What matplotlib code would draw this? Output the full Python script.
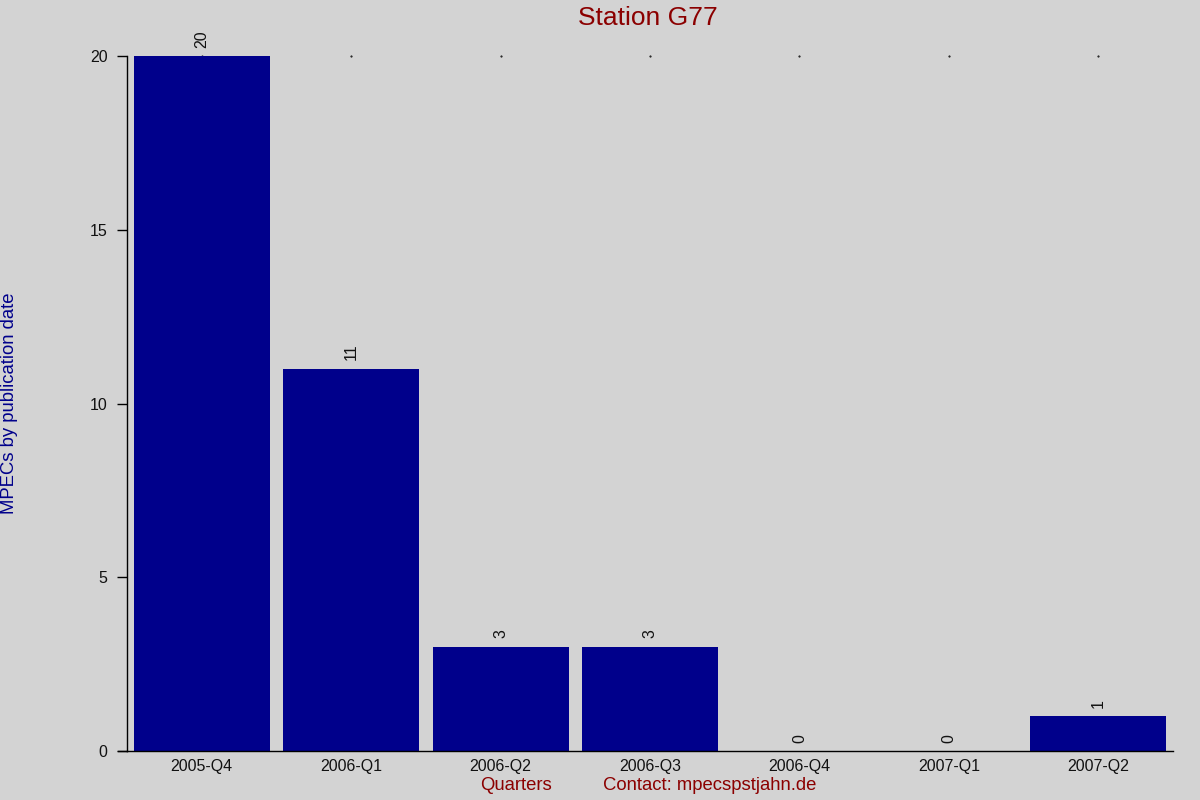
import numpy as np
import matplotlib.pyplot as plt

plt.rcParams['font.family'] = ['Liberation Sans', 'DejaVu Sans']

# data
quarters = ['2005-Q4', '2006-Q1', '2006-Q2', '2006-Q3', '2006-Q4', '2007-Q1', '2007-Q2']
mpecs = [20, 11, 3, 3, 0, 0, 1]

bg = '#d3d3d3'
fig = plt.figure(figsize=(12, 8), dpi=100, facecolor=bg)
ax = fig.add_axes([127 / 1200, 1 - 751 / 800, (1173 - 127) / 1200, (751 - 56) / 800])
ax.set_facecolor(bg)

x = np.arange(len(quarters))
ax.bar(x, mpecs, width=0.91, color='#00008b', zorder=2)
# tiny marks at the top of the value range
ax.plot(x, [20] * len(x), linestyle='none', marker='.', markersize=1, color='black', zorder=1, clip_on=False)

for xi, v in zip(x, mpecs):
    ax.annotate(str(v), (xi, v), xytext=(0, 6), textcoords='offset points',
                rotation=90, ha='center', va='bottom', fontsize=11.5, color='#111111')

ax.set_xlim(-0.5, 6.5)
ax.set_ylim(0, 20)
ax.set_xticks(x)
ax.set_xticklabels(quarters, fontsize=11.5, color='#111111')
ax.set_yticks([0, 5, 10, 15, 20])
ax.set_yticklabels(['0', '5', '10', '15', '20'], fontsize=11.5, color='#111111')
ax.tick_params(axis='x', length=0, pad=6)
ax.tick_params(axis='y', length=7, width=1, direction='out', pad=7)

for side in ['top', 'right']:
    ax.spines[side].set_visible(False)
ax.spines['left'].set_linewidth(1)
ax.spines['bottom'].set_linewidth(1)
# bottom axis line runs a bit past the y-axis
ax.plot([-0.56, -0.5], [0, 0], color='black', linewidth=1, clip_on=False)

fig.text(648 / 1200, 1 - 18 / 800, 'Station G77', ha='center', va='center',
         fontsize=19, color='#8b0000')
fig.text(10 / 1200, 1 - 403 / 800, 'MPECs by publication date', rotation=90,
         ha='center', va='center', fontsize=13.3, color='#00008b')
fig.text(516 / 1200, 1 - 786 / 800, 'Quarters', ha='center', va='center',
         fontsize=13.3, color='#8b0000')
fig.text(603 / 1200, 1 - 786 / 800, 'Contact: mpecspstjahn.de', ha='left', va='center',
         fontsize=13.3, color='#8b0000')

fig.savefig('out.png', dpi=100, facecolor=bg)
